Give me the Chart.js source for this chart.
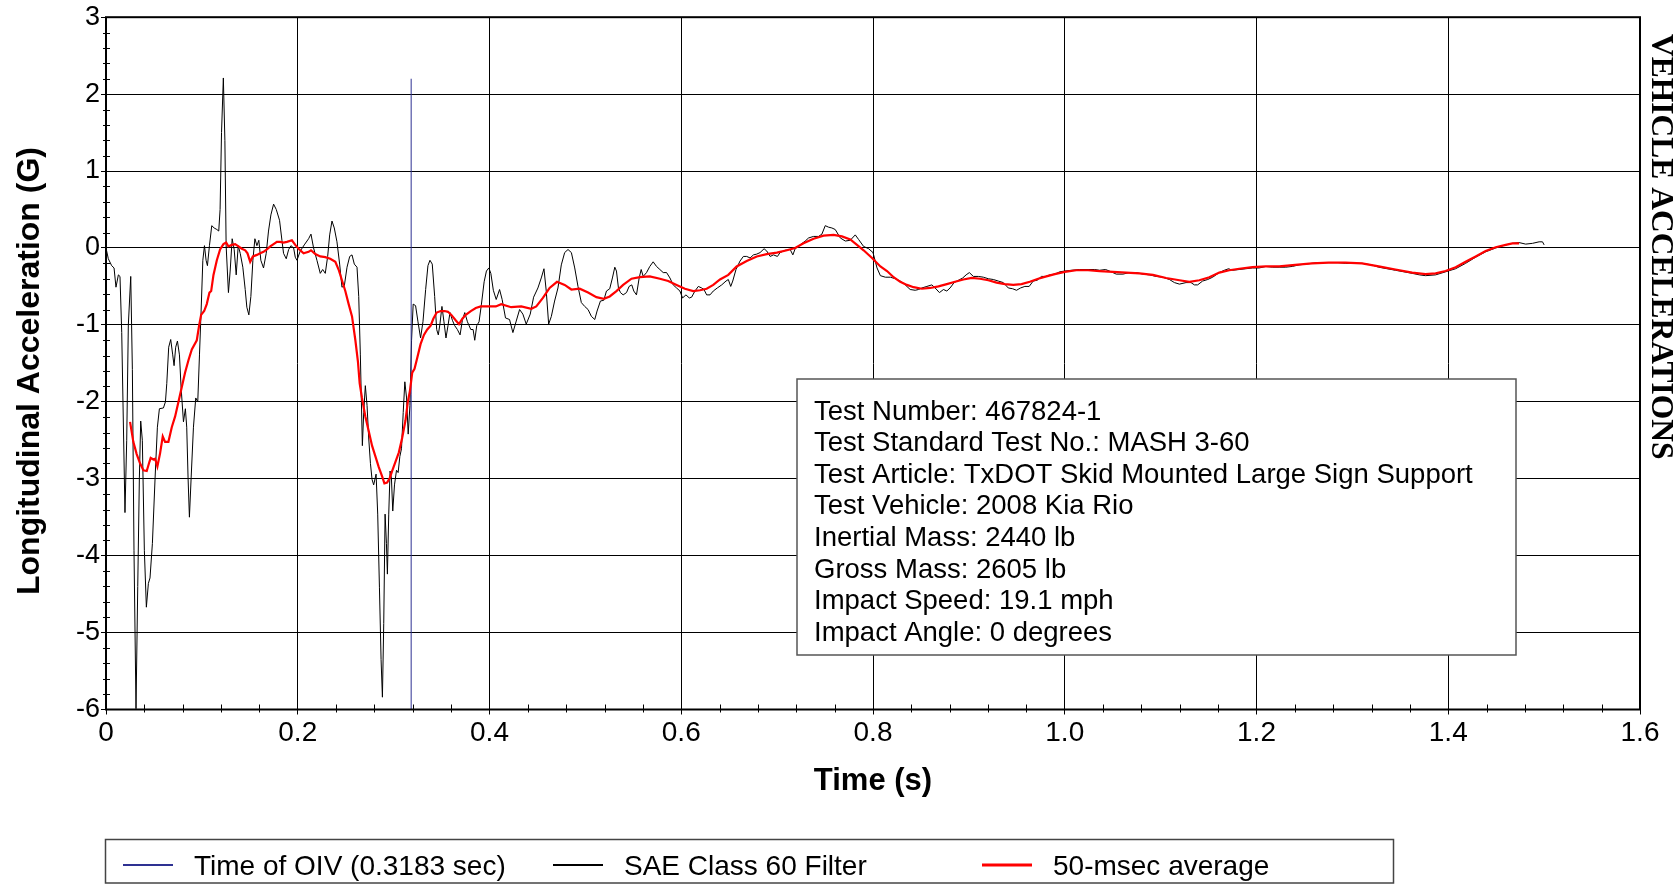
<!DOCTYPE html>
<html>
<head>
<meta charset="utf-8">
<script src="https://cdn.jsdelivr.net/npm/chart.js@4.4.1/dist/chart.umd.min.js"></script>
<style>
  html, body { margin: 0; padding: 0; background: #fff; }
  #wrap { width: 1673px; height: 884px; position: relative; }
</style>
</head>
<body>
<div id="wrap"><canvas id="accelChart"></canvas></div>
<script>
// SAE Class 60 filtered signal (time in s, acceleration in G)
const saeTime = [
  0.0000, 0.0024, 0.0059, 0.0084, 0.0104, 0.0129, 0.0146, 0.0164, 0.0198, 0.0216, 0.0233, 0.0258, 0.0275, 0.0292, 0.0313, 0.0331,
  0.0348, 0.0362, 0.0379, 0.0400, 0.0421, 0.0442, 0.0459, 0.0484, 0.0512, 0.0536, 0.0557, 0.0599, 0.0620, 0.0634, 0.0654, 0.0675,
  0.0696, 0.0710, 0.0727, 0.0745, 0.0766, 0.0783, 0.0808, 0.0828, 0.0842, 0.0856, 0.0870, 0.0888, 0.0912, 0.0936, 0.0957, 0.0975,
  0.0992, 0.1010, 0.1027, 0.1044, 0.1058, 0.1079, 0.1103, 0.1128, 0.1156, 0.1176, 0.1190, 0.1205, 0.1224, 0.1240, 0.1253, 0.1277,
  0.1295, 0.1316, 0.1337, 0.1358, 0.1379, 0.1400, 0.1427, 0.1452, 0.1469, 0.1490, 0.1511, 0.1532, 0.1553, 0.1574, 0.1594, 0.1615,
  0.1643, 0.1671, 0.1695, 0.1720, 0.1748, 0.1776, 0.1810, 0.1835, 0.1852, 0.1880, 0.1905, 0.1929, 0.1957, 0.1974, 0.1992, 0.2026,
  0.2068, 0.2113, 0.2138, 0.2165, 0.2200, 0.2235, 0.2260, 0.2287, 0.2312, 0.2333, 0.2357, 0.2381, 0.2409, 0.2437, 0.2461, 0.2486,
  0.2514, 0.2542, 0.2566, 0.2590, 0.2618, 0.2636, 0.2653, 0.2674, 0.2688, 0.2705, 0.2723, 0.2740, 0.2758, 0.2775, 0.2792, 0.2817,
  0.2834, 0.2852, 0.2869, 0.2883, 0.2897, 0.2911, 0.2925, 0.2935, 0.2949, 0.2963, 0.2977, 0.2991, 0.3009, 0.3030, 0.3047, 0.3065,
  0.3082, 0.3100, 0.3117, 0.3135, 0.3152, 0.3170, 0.3187, 0.3204, 0.3229, 0.3254, 0.3281, 0.3306, 0.3334, 0.3358, 0.3379, 0.3403,
  0.3428, 0.3449, 0.3466, 0.3483, 0.3504, 0.3525, 0.3546, 0.3567, 0.3588, 0.3613, 0.3637, 0.3665, 0.3693, 0.3717, 0.3742, 0.3770,
  0.3805, 0.3829, 0.3846, 0.3867, 0.3891, 0.3916, 0.3944, 0.3968, 0.3993, 0.4014, 0.4040, 0.4070, 0.4105, 0.4132, 0.4167, 0.4209,
  0.4244, 0.4279, 0.4314, 0.4348, 0.4383, 0.4425, 0.4460, 0.4505, 0.4540, 0.4568, 0.4592, 0.4617, 0.4645, 0.4679, 0.4714, 0.4749,
  0.4784, 0.4819, 0.4854, 0.4889, 0.4923, 0.4958, 0.4993, 0.5028, 0.5063, 0.5098, 0.5122, 0.5157, 0.5192, 0.5220, 0.5254, 0.5282,
  0.5307, 0.5324, 0.5345, 0.5366, 0.5394, 0.5429, 0.5456, 0.5484, 0.5505, 0.5533, 0.5561, 0.5582, 0.5603, 0.5638, 0.5672, 0.5707,
  0.5742, 0.5777, 0.5812, 0.5847, 0.5882, 0.5916, 0.5951, 0.5986, 0.6014, 0.6049, 0.6084, 0.6108, 0.6143, 0.6178, 0.6213, 0.6237,
  0.6265, 0.6300, 0.6334, 0.6376, 0.6422, 0.6467, 0.6491, 0.6516, 0.6537, 0.6571, 0.6613, 0.6648, 0.6683, 0.6718, 0.6753, 0.6787,
  0.6822, 0.6864, 0.6892, 0.6927, 0.6962, 0.7003, 0.7031, 0.7084, 0.7136, 0.7164, 0.7188, 0.7240, 0.7293, 0.7328, 0.7380, 0.7432,
  0.7467, 0.7502, 0.7537, 0.7571, 0.7606, 0.7659, 0.7711, 0.7763, 0.7815, 0.7850, 0.7902, 0.7955, 0.8000, 0.8042, 0.8077, 0.8129,
  0.8181, 0.8233, 0.8284, 0.8336, 0.8388, 0.8440, 0.8475, 0.8510, 0.8562, 0.8614, 0.8648, 0.8693, 0.8735, 0.8770, 0.8804, 0.8846,
  0.8891, 0.8936, 0.8971, 0.9005, 0.9047, 0.9099, 0.9151, 0.9203, 0.9255, 0.9307, 0.9359, 0.9411, 0.9456, 0.9497, 0.9539, 0.9584,
  0.9629, 0.9671, 0.9712, 0.9757, 0.9802, 0.9844, 0.9896, 0.9948, 1.0000, 1.0069, 1.0156, 1.0243, 1.0312, 1.0364, 1.0426, 1.0485,
  1.0537, 1.0607, 1.0676, 1.0745, 1.0815, 1.0884, 1.0953, 1.1023, 1.1092, 1.1144, 1.1196, 1.1265, 1.1317, 1.1352, 1.1386, 1.1438,
  1.1491, 1.1543, 1.1612, 1.1664, 1.1709, 1.1750, 1.1820, 1.1889, 1.1958, 1.2028, 1.2097, 1.2166, 1.2236, 1.2305, 1.2374, 1.2444,
  1.2578, 1.2650, 1.2753, 1.2850, 1.2927, 1.3101, 1.3200, 1.3275, 1.3449, 1.3624, 1.3700, 1.3763, 1.3868, 1.3972, 1.4077, 1.4181,
  1.4286, 1.4390, 1.4495, 1.4599, 1.4669, 1.4739, 1.4808, 1.4878, 1.4948, 1.4983, 1.5000
];
const saeAccel = [
  0.00, -0.14, -0.23, -0.26, -0.51, -0.35, -0.37, -1.10, -3.44, -2.50, -1.00, -0.37, -1.58, -3.93, -5.99, -4.40,
  -2.99, -2.25, -2.50, -3.93, -4.67, -4.36, -4.29, -3.84, -2.99, -2.33, -2.09, -2.08, -2.00, -1.76, -1.29, -1.19,
  -1.39, -1.53, -1.29, -1.21, -1.39, -1.81, -2.26, -2.09, -2.33, -2.99, -3.50, -2.99, -2.33, -1.95, -2.00, -1.39,
  -0.82, -0.16, 0.03, -0.16, -0.23, 0.03, 0.29, 0.26, 0.24, 0.22, 0.50, 1.50, 2.21, 1.40, 0.03, -0.58,
  -0.30, 0.12, -0.02, -0.35, 0.03, -0.07, -0.25, -0.54, -0.77, -0.87, -0.63, -0.16, 0.12, 0.03, 0.10, -0.16,
  -0.26, -0.07, 0.22, 0.43, 0.57, 0.50, 0.36, 0.10, -0.07, -0.14, -0.02, 0.03, 0.00, -0.12, -0.16, -0.04,
  0.04, 0.12, 0.18, 0.00, -0.16, -0.33, -0.28, -0.33, -0.11, 0.17, 0.35, 0.26, 0.08, -0.21, -0.51, -0.49,
  -0.25, -0.11, -0.09, -0.21, -0.25, -0.63, -1.39, -2.57, -2.14, -1.79, -2.05, -2.47, -2.80, -3.01, -3.08, -2.94,
  -3.46, -4.41, -5.35, -5.84, -4.88, -3.46, -3.84, -4.24, -3.46, -2.90, -2.99, -3.42, -3.08, -2.89, -2.92, -2.71,
  -2.61, -2.14, -1.74, -1.95, -2.42, -2.05, -1.20, -0.73, -0.75, -0.96, -1.17, -0.96, -0.54, -0.23, -0.16, -0.21,
  -0.63, -1.06, -1.13, -0.99, -0.76, -0.96, -1.17, -1.01, -0.84, -0.94, -1.01, -1.06, -1.13, -0.94, -0.84, -0.96,
  -1.06, -1.06, -1.20, -1.01, -0.96, -0.73, -0.44, -0.30, -0.26, -0.33, -0.55, -0.67, -0.54, -0.67, -0.91, -0.93,
  -1.10, -0.95, -0.80, -0.86, -0.99, -0.86, -0.64, -0.52, -0.39, -0.27, -0.56, -0.99, -0.89, -0.69, -0.52, -0.22,
  -0.06, -0.02, -0.06, -0.26, -0.50, -0.71, -0.76, -0.80, -0.89, -0.93, -0.82, -0.69, -0.68, -0.56, -0.53, -0.39,
  -0.25, -0.30, -0.52, -0.58, -0.61, -0.58, -0.50, -0.48, -0.56, -0.61, -0.39, -0.28, -0.37, -0.32, -0.24, -0.18,
  -0.24, -0.28, -0.32, -0.32, -0.39, -0.48, -0.52, -0.56, -0.65, -0.61, -0.65, -0.64, -0.56, -0.50, -0.52, -0.54,
  -0.61, -0.61, -0.56, -0.52, -0.48, -0.43, -0.41, -0.50, -0.43, -0.28, -0.17, -0.11, -0.11, -0.13, -0.09, -0.08,
  -0.06, -0.01, -0.04, -0.11, -0.09, -0.11, -0.06, -0.03, -0.02, -0.09, -0.01, 0.04, 0.09, 0.13, 0.15, 0.15,
  0.18, 0.29, 0.27, 0.26, 0.24, 0.13, 0.09, 0.10, 0.17, 0.11, 0.02, -0.01, -0.06, -0.26, -0.36, -0.38,
  -0.38, -0.40, -0.43, -0.48, -0.54, -0.55, -0.54, -0.52, -0.50, -0.48, -0.52, -0.58, -0.54, -0.56, -0.52, -0.45,
  -0.42, -0.39, -0.35, -0.32, -0.37, -0.37, -0.38, -0.40, -0.41, -0.43, -0.45, -0.52, -0.53, -0.55, -0.52, -0.50,
  -0.50, -0.43, -0.42, -0.37, -0.37, -0.35, -0.34, -0.31, -0.30, -0.29, -0.28, -0.28, -0.28, -0.29, -0.28, -0.31,
  -0.34, -0.34, -0.32, -0.32, -0.34, -0.35, -0.37, -0.38, -0.41, -0.45, -0.47, -0.45, -0.45, -0.48, -0.48, -0.43,
  -0.41, -0.38, -0.32, -0.29, -0.27, -0.29, -0.28, -0.27, -0.26, -0.26, -0.24, -0.25, -0.25, -0.25, -0.24, -0.22,
  -0.20, -0.19, -0.19, -0.19, -0.20, -0.20, -0.22, -0.25, -0.29, -0.33, -0.35, -0.36, -0.35, -0.31, -0.27, -0.20,
  -0.12, -0.05, 0.00, 0.04, 0.06, 0.07, 0.05, 0.06, 0.08, 0.08, 0.04
];

// 50-msec moving average
const avgTime = [
  0.0251, 0.0285, 0.0320, 0.0355, 0.0390, 0.0425, 0.0453, 0.0466, 0.0494, 0.0512, 0.0536, 0.0564, 0.0592, 0.0616, 0.0651, 0.0686,
  0.0721, 0.0756, 0.0790, 0.0825, 0.0860, 0.0895, 0.0947, 0.0971, 0.0992, 0.1024, 0.1051, 0.1079, 0.1097, 0.1121, 0.1156, 0.1190,
  0.1225, 0.1253, 0.1277, 0.1312, 0.1347, 0.1382, 0.1417, 0.1452, 0.1476, 0.1504, 0.1532, 0.1574, 0.1608, 0.1643, 0.1678, 0.1713,
  0.1748, 0.1782, 0.1817, 0.1852, 0.1887, 0.1939, 0.1974, 0.2009, 0.2061, 0.2113, 0.2138, 0.2183, 0.2235, 0.2287, 0.2339, 0.2392,
  0.2426, 0.2461, 0.2496, 0.2531, 0.2566, 0.2601, 0.2628, 0.2646, 0.2670, 0.2705, 0.2740, 0.2775, 0.2810, 0.2845, 0.2880, 0.2904,
  0.2932, 0.2960, 0.2984, 0.3019, 0.3054, 0.3089, 0.3124, 0.3148, 0.3170, 0.3194, 0.3218, 0.3246, 0.3281, 0.3316, 0.3351, 0.3386,
  0.3414, 0.3449, 0.3491, 0.3532, 0.3567, 0.3602, 0.3647, 0.3682, 0.3717, 0.3752, 0.3805, 0.3857, 0.3909, 0.3961, 0.4014, 0.4066,
  0.4122, 0.4226, 0.4331, 0.4436, 0.4488, 0.4557, 0.4627, 0.4704, 0.4784, 0.4854, 0.4941, 0.5028, 0.5115, 0.5192, 0.5254, 0.5324,
  0.5394, 0.5481, 0.5568, 0.5672, 0.5777, 0.5864, 0.5951, 0.6038, 0.6125, 0.6195, 0.6265, 0.6334, 0.6404, 0.6491, 0.6578, 0.6683,
  0.6787, 0.6892, 0.6997, 0.7101, 0.7188, 0.7275, 0.7380, 0.7484, 0.7589, 0.7676, 0.7763, 0.7833, 0.7902, 0.7990, 0.8077, 0.8146,
  0.8215, 0.8284, 0.8354, 0.8423, 0.8510, 0.8596, 0.8683, 0.8770, 0.8856, 0.8943, 0.9029, 0.9116, 0.9203, 0.9289, 0.9376, 0.9463,
  0.9549, 0.9636, 0.9723, 0.9809, 0.9896, 1.0000, 1.0121, 1.0243, 1.0364, 1.0503, 1.0641, 1.0780, 1.0919, 1.1057, 1.1196, 1.1300,
  1.1404, 1.1508, 1.1612, 1.1716, 1.1820, 1.1958, 1.2097, 1.2236, 1.2404, 1.2578, 1.2753, 1.2927, 1.3101, 1.3275, 1.3449, 1.3624,
  1.3763, 1.3868, 1.3972, 1.4077, 1.4181, 1.4286, 1.4390, 1.4495, 1.4599, 1.4669, 1.4739
];
const avgAccel = [
  -2.26, -2.52, -2.68, -2.80, -2.89, -2.90, -2.78, -2.73, -2.75, -2.74, -2.84, -2.67, -2.45, -2.52, -2.52, -2.33,
  -2.19, -2.00, -1.81, -1.62, -1.46, -1.32, -1.20, -1.01, -0.87, -0.82, -0.73, -0.58, -0.56, -0.35, -0.16, -0.02,
  0.05, 0.07, 0.02, 0.04, 0.05, 0.02, -0.01, -0.03, -0.07, -0.18, -0.11, -0.09, -0.07, -0.05, -0.02, 0.02,
  0.05, 0.08, 0.08, 0.07, 0.08, 0.10, 0.04, -0.01, -0.07, -0.05, -0.03, -0.08, -0.11, -0.12, -0.14, -0.18,
  -0.28, -0.42, -0.56, -0.73, -0.89, -1.20, -1.48, -1.76, -1.95, -2.19, -2.38, -2.57, -2.71, -2.85, -2.97, -3.06,
  -3.05, -2.99, -2.90, -2.78, -2.66, -2.47, -2.24, -2.00, -1.86, -1.62, -1.57, -1.43, -1.25, -1.13, -1.06, -1.01,
  -0.92, -0.84, -0.82, -0.82, -0.83, -0.87, -0.94, -0.99, -0.92, -0.87, -0.82, -0.78, -0.76, -0.76, -0.76, -0.76,
  -0.73, -0.77, -0.76, -0.79, -0.76, -0.65, -0.52, -0.44, -0.48, -0.54, -0.53, -0.58, -0.64, -0.66, -0.63, -0.56,
  -0.48, -0.40, -0.38, -0.37, -0.40, -0.43, -0.48, -0.53, -0.56, -0.55, -0.53, -0.48, -0.41, -0.35, -0.24, -0.17,
  -0.11, -0.08, -0.06, -0.03, 0.00, 0.06, 0.12, 0.16, 0.17, 0.15, 0.11, 0.04, -0.03, -0.13, -0.24, -0.30,
  -0.38, -0.44, -0.48, -0.51, -0.53, -0.52, -0.50, -0.47, -0.44, -0.41, -0.39, -0.40, -0.42, -0.45, -0.47, -0.48,
  -0.47, -0.44, -0.40, -0.37, -0.34, -0.31, -0.29, -0.29, -0.30, -0.31, -0.32, -0.33, -0.35, -0.39, -0.42, -0.44,
  -0.42, -0.38, -0.32, -0.29, -0.27, -0.25, -0.24, -0.24, -0.22, -0.20, -0.19, -0.19, -0.20, -0.24, -0.28, -0.32,
  -0.34, -0.33, -0.30, -0.25, -0.18, -0.11, -0.04, 0.01, 0.04, 0.06, 0.06
];

// time of occupant impact velocity and the extent of its marker line
const oivTime = 0.3183;
const oivExtent = [-6, 2.2];

const seriesLabels = ['Time of OIV (0.3183 sec)', 'SAE Class 60 Filter', '50-msec average'];
const seriesColors = ['#2e3192', '#000000', '#ff0000'];

const infoLines = [
  'Test Number: 467824-1',
  'Test Standard Test No.: MASH 3-60',
  'Test Article: TxDOT Skid Mounted Large Sign Support',
  'Test Vehicle: 2008 Kia Rio',
  'Inertial Mass: 2440 lb',
  'Gross Mass: 2605 lb',
  'Impact Speed: 19.1 mph',
  'Impact Angle: 0 degrees'
];

const sansFont = '"Liberation Sans", Arial, sans-serif';
Chart.defaults.font.family = sansFont;
Chart.defaults.color = '#000';

function toPoints(xs, ys) {
  return xs.map((x, i) => ({ x: x, y: ys[i] }));
}

const decorations = {
  id: 'decorations',
  afterDraw(chart) {
    const ctx = chart.ctx;
    const area = chart.chartArea;
    const xs = chart.scales.x;
    const ys = chart.scales.y;
    ctx.save();

    // minor ticks
    ctx.strokeStyle = '#000';
    ctx.lineWidth = 1;
    ctx.beginPath();
    for (let v = -6; v < 3; v += 0.2) {
      const r = Math.round(v * 10) / 10;
      if (Math.abs(r - Math.round(r)) < 1e-6) continue;
      const py = Math.round(ys.getPixelForValue(r)) + 0.5;
      ctx.moveTo(area.left - 3, py);
      ctx.lineTo(area.left + 4, py);
    }
    for (let v = 0; v < 1.6; v += 0.04) {
      const r = Math.round(v * 100) / 100;
      if (Math.abs(r * 5 - Math.round(r * 5)) < 1e-6) continue;
      const px = Math.round(xs.getPixelForValue(r)) + 0.5;
      ctx.moveTo(px, area.bottom + 3);
      ctx.lineTo(px, area.bottom - 5);
    }
    ctx.stroke();

    // plot frame
    ctx.lineWidth = 2;
    ctx.strokeRect(area.left, area.top, area.right - area.left, area.bottom - area.top);

    // y axis title, sitting a little below the middle of the axis like the original
    ctx.save();
    ctx.translate(30, 371);
    ctx.rotate(-Math.PI / 2);
    ctx.font = 'bold 32px ' + sansFont;
    ctx.textAlign = 'center';
    ctx.textBaseline = 'middle';
    ctx.fillStyle = '#000';
    ctx.fillText('Longitudinal Acceleration (G)', 0, 0);
    ctx.restore();

    // info box
    ctx.fillStyle = '#fff';
    ctx.fillRect(797, 379, 719, 276);
    ctx.strokeStyle = '#555';
    ctx.lineWidth = 1.5;
    ctx.strokeRect(797, 379, 719, 276);
    ctx.fillStyle = '#000';
    ctx.font = '27.5px ' + sansFont;
    ctx.textBaseline = 'middle';
    ctx.textAlign = 'left';
    infoLines.forEach((line, i) => {
      ctx.fillText(line, 814, 412 + i * 31.6);
    });

    // legend
    ctx.strokeStyle = '#444';
    ctx.lineWidth = 1.5;
    ctx.strokeRect(105.5, 839.5, 1288, 43.5);
    const itemX = [123, 553, 982];
    chart.data.datasets.forEach((ds, i) => {
      ctx.strokeStyle = ds.borderColor;
      ctx.lineWidth = ds.borderWidth + 1;
      ctx.beginPath();
      ctx.moveTo(itemX[i], 865);
      ctx.lineTo(itemX[i] + 50, 865);
      ctx.stroke();
      ctx.fillStyle = '#000';
      ctx.font = '28px ' + sansFont;
      ctx.fillText(ds.label, itemX[i] + 71, 867);
    });

    // side title
    ctx.translate(1652, 34);
    ctx.rotate(Math.PI / 2);
    ctx.font = 'bold 31.5px "Liberation Serif", "Times New Roman", serif';
    ctx.textBaseline = 'alphabetic';
    ctx.fillStyle = '#000';
    ctx.fillText('VEHICLE ACCELERATIONS', 0, 0);
    ctx.restore();
  }
};

new Chart(document.getElementById('accelChart'), {
  type: 'line',
  data: {
    datasets: [
      {
        label: seriesLabels[0],
        data: [{ x: oivTime, y: oivExtent[0] }, { x: oivTime, y: oivExtent[1] }],
        borderColor: seriesColors[0],
        borderWidth: 1,
        order: 1
      },
      {
        label: seriesLabels[1],
        data: toPoints(saeTime, saeAccel),
        borderColor: seriesColors[1],
        borderWidth: 1,
        order: 2
      },
      {
        label: seriesLabels[2],
        data: toPoints(avgTime, avgAccel),
        borderColor: seriesColors[2],
        borderWidth: 2.2,
        order: 0
      }
    ]
  },
  options: {
    responsive: true,
    maintainAspectRatio: false,
    animation: false,
    events: [],
    layout: { padding: { left: 0, top: 15, right: 33, bottom: 84 } },
    elements: { point: { radius: 0 }, line: { tension: 0, fill: false } },
    plugins: { legend: { display: false }, tooltip: { enabled: false } },
    scales: {
      x: {
        type: 'linear',
        min: 0,
        max: 1.6,
        ticks: {
          stepSize: 0.2,
          padding: 2,
          font: { size: 28 },
          callback: v => (Math.abs(v) < 1e-9 ? '0' : v.toFixed(1))
        },
        grid: { color: '#000', lineWidth: 1, tickLength: 5, tickColor: '#000' },
        border: { display: false },
        title: {
          display: true,
          text: 'Time (s)',
          font: { size: 31, weight: 'bold' },
          padding: { top: 0, bottom: 0 }
        },
        afterFit: scale => { scale.height = 90.5; }
      },
      y: {
        min: -6,
        max: 3,
        ticks: {
          stepSize: 1,
          padding: 1,
          font: { size: 27 },
          callback: v => String(v)
        },
        grid: { color: '#000', lineWidth: 1, tickLength: 5, tickColor: '#000' },
        border: { display: false },
        title: { display: false },
        afterFit: scale => { scale.width = 106; }
      }
    }
  },
  plugins: [decorations]
});
</script>
</body>
</html>
